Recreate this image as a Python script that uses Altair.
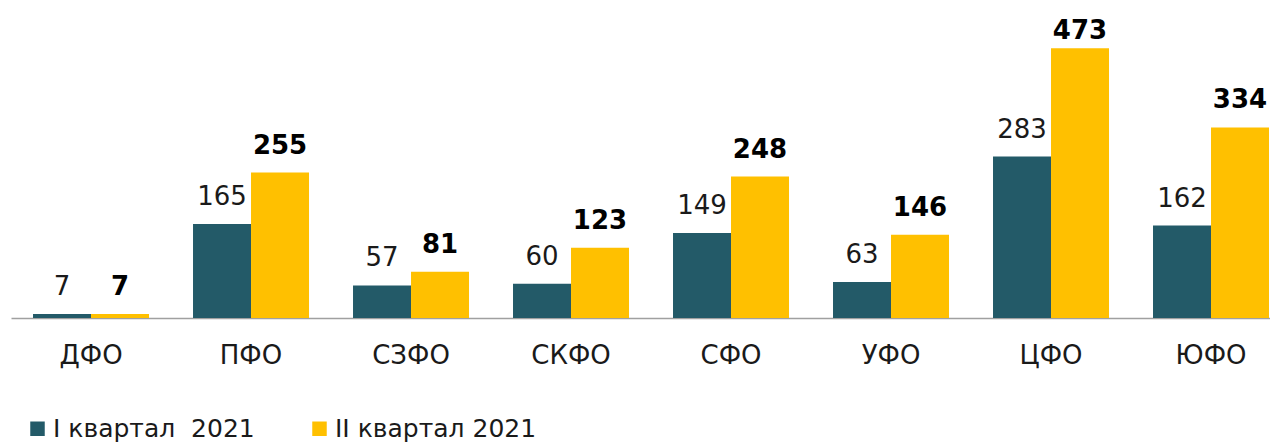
import altair as alt
import pandas as pd

regions = ["ДФО", "ПФО", "СЗФО", "СКФО", "СФО", "УФО", "ЦФО", "ЮФО"]
q1_values = [7, 165, 57, 60, 149, 63, 283, 162]
q2_values = [7, 255, 81, 123, 248, 146, 473, 334]
series_names = ["I квартал\u00a0 2021", "II квартал 2021"]
series_colors = ["#235A68", "#FFC000"]

rows = []
for r, a, b in zip(regions, q1_values, q2_values):
    rows.append({"region": r, "series": series_names[0], "value": a})
    rows.append({"region": r, "series": series_names[1], "value": b})
df = pd.DataFrame(rows)

FONT = "DejaVu Sans"

x_enc = alt.X(
    "region:N",
    sort=regions,
    scale=alt.Scale(domain=regions, paddingInner=0.275, paddingOuter=0.0719, align=0.957),
    axis=alt.Axis(
        title=None, ticks=False, tickSize=0, labelAngle=0, labelPadding=24,
        labelFontSize=26, labelFont=FONT, labelColor="#1a1a1a",
        domainColor="#A0A0A0", domainWidth=1.6, grid=False,
    ),
)
xoff_enc = alt.XOffset(
    "series:N",
    scale=alt.Scale(domain=series_names, paddingInner=0, paddingOuter=0),
)
y_scale = alt.Scale(domain=[0, 540], nice=False, zero=True)

base = alt.Chart(df)

bars = base.mark_bar().encode(
    x=x_enc,
    xOffset=xoff_enc,
    y=alt.Y("value:Q", scale=y_scale, axis=None),
    color=alt.Color(
        "series:N",
        scale=alt.Scale(domain=series_names, range=series_colors),
        legend=alt.Legend(
            orient="none", legendX=14, legendY=406, direction="horizontal",
            title=None, symbolType="square", symbolSize=210,
            labelFontSize=25, labelFont=FONT, labelColor="#1a1a1a",
            labelLimit=500, columnPadding=52, labelOffset=3, padding=0,
            symbolStrokeWidth=0,
        ),
    ),
)

labels_base = base.transform_calculate(label_y="min(datum.value, 455)")

lab1 = labels_base.transform_filter(alt.datum.series == series_names[0]).mark_text(
    font=FONT, fontSize=26, fontWeight="normal", color="#1a1a1a",
    baseline="alphabetic", dy=-19,
).encode(
    x=x_enc, xOffset=xoff_enc,
    y=alt.Y("label_y:Q", scale=y_scale, axis=None),
    text=alt.Text("value:Q"),
)

lab2 = labels_base.transform_filter(alt.datum.series == series_names[1]).mark_text(
    font=FONT, fontSize=26, fontWeight="bold", color="#000000",
    baseline="alphabetic", dy=-19,
).encode(
    x=x_enc, xOffset=xoff_enc,
    y=alt.Y("label_y:Q", scale=y_scale, axis=None),
    text=alt.Text("value:Q"),
)

chart = alt.layer(bars, lab1, lab2).properties(
    width=1259, height=308,
    padding={"left": 3, "top": 2, "right": 0, "bottom": 0},
    background="white",
).configure_view(strokeWidth=0, stroke="transparent")

chart.save("out.html", embed_options={"renderer": "svg", "actions": False})
